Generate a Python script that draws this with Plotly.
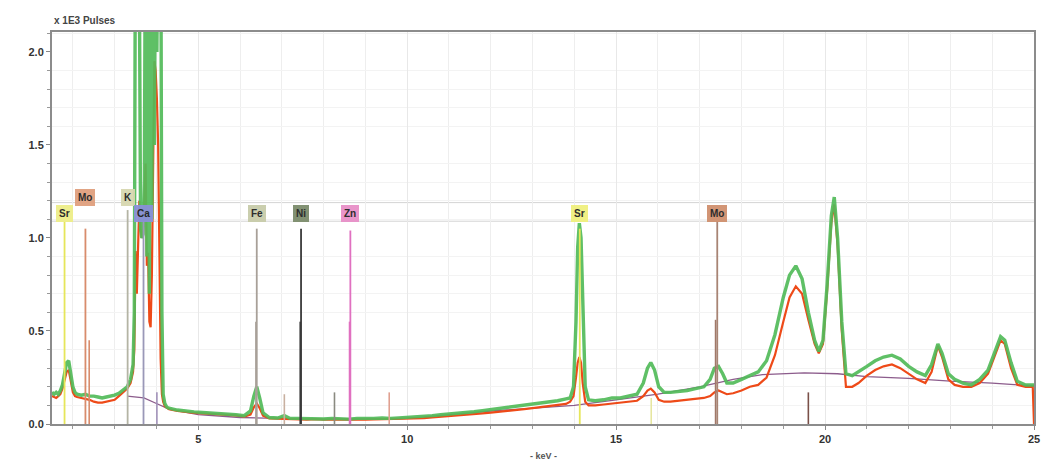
import plotly.graph_objects as go

# Energy axis (keV) shared by both measured spectra
kev = [
    1.50, 1.55, 1.60, 1.65, 1.70, 1.75, 1.80, 1.85, 1.90, 1.95, 2.00, 2.05, 2.10, 2.20, 2.30,
    2.40, 2.50, 2.60, 2.70, 2.80, 2.90, 3.00, 3.10, 3.20, 3.30, 3.38, 3.44,
    3.47, 3.50, 3.53, 3.56, 3.59, 3.62, 3.65, 3.68, 3.71, 3.74, 3.77, 3.80, 3.83, 3.86, 3.89,
    3.92, 3.95, 3.98, 4.01, 4.04, 4.07, 4.10, 4.13, 4.16, 4.20, 4.25,
    4.3, 4.5, 4.7, 4.9, 5.1, 5.3, 5.5, 5.7, 5.9, 6.1, 6.25, 6.33, 6.40, 6.47, 6.55, 6.7, 6.9,
    7.06, 7.2, 7.4, 7.6, 7.8, 8.0, 8.2, 8.4, 8.6, 8.8, 9.0, 9.2, 9.4, 9.6, 9.8, 10.0, 10.2,
    10.4, 10.6, 10.8, 11.0, 11.2, 11.4, 11.6, 11.8, 12.0, 12.2, 12.4, 12.6, 12.8, 13.0, 13.2,
    13.4, 13.6, 13.8,
    13.9, 13.98, 14.04, 14.08, 14.12, 14.16, 14.20, 14.26, 14.34, 14.5, 14.7, 14.9, 15.1, 15.3,
    15.5, 15.65, 15.75, 15.83, 15.92, 16.02, 16.15, 16.3, 16.5, 16.7, 16.9, 17.1, 17.25, 17.35,
    17.45, 17.55, 17.65, 17.8, 18.0, 18.2, 18.4,
    18.6, 18.8, 19.0, 19.15, 19.3, 19.45, 19.6, 19.75, 19.85, 19.95, 20.05, 20.15, 20.22, 20.3,
    20.4, 20.5, 20.65, 20.8, 21.0, 21.2, 21.4, 21.6, 21.8, 22.0, 22.2, 22.4, 22.55, 22.7, 22.8,
    22.95, 23.1, 23.3, 23.5, 23.7, 23.9, 24.05, 24.2, 24.3, 24.45, 24.6, 24.8, 24.97, 25.0,
]

# Counts in thousands of pulses
green_counts = [
    0.17, 0.16, 0.17, 0.16, 0.18, 0.21, 0.27, 0.33, 0.34, 0.27, 0.20, 0.17, 0.16, 0.155, 0.16,
    0.15, 0.15, 0.145, 0.14, 0.145, 0.15, 0.155, 0.165, 0.18, 0.20, 0.24, 0.32,
    0.6, 3.0, 3.0, 3.0, 2.4, 1.05, 1.0, 1.02, 1.3, 3.0, 0.9, 3.0, 0.7, 3.0, 1.1,
    3.0, 1.5, 3.0, 2.0, 3.0, 2.4, 3.0, 0.6, 0.16, 0.11, 0.09,
    0.085, 0.075, 0.068, 0.065, 0.062, 0.06, 0.058, 0.055, 0.05, 0.045, 0.07, 0.15, 0.20, 0.14,
    0.06, 0.035, 0.032, 0.045, 0.03, 0.03, 0.028, 0.03, 0.027, 0.03, 0.028, 0.026, 0.03, 0.028,
    0.03, 0.032, 0.03, 0.033, 0.035, 0.038, 0.04, 0.045, 0.05, 0.053, 0.058, 0.062, 0.066,
    0.072, 0.078, 0.082, 0.088, 0.094, 0.10, 0.104, 0.11, 0.118, 0.125, 0.135,
    0.14, 0.20, 0.55, 0.95, 1.08, 1.0, 0.6, 0.20, 0.13, 0.125, 0.13, 0.14, 0.14, 0.15,
    0.16, 0.22, 0.30, 0.33, 0.29, 0.20, 0.17, 0.17, 0.175, 0.18, 0.19, 0.20, 0.24, 0.30,
    0.31, 0.27, 0.22, 0.22, 0.24, 0.26, 0.28,
    0.34, 0.48, 0.68, 0.80, 0.85, 0.78, 0.60, 0.45, 0.39, 0.45, 0.75, 1.12, 1.22, 1.0,
    0.55, 0.27, 0.26, 0.28, 0.31, 0.34, 0.36, 0.37, 0.35, 0.31, 0.28, 0.26, 0.32, 0.43, 0.38,
    0.27, 0.24, 0.22, 0.21, 0.24, 0.29, 0.38, 0.47, 0.45, 0.33, 0.23, 0.21, 0.21, 0.21,
]

red_counts = [
    0.15, 0.145, 0.14, 0.15, 0.16, 0.19, 0.24, 0.28, 0.29, 0.23, 0.17, 0.15, 0.145, 0.14, 0.135,
    0.13, 0.12, 0.115, 0.115, 0.12, 0.125, 0.13, 0.15, 0.17, 0.19, 0.22, 0.28,
    0.4, 0.93, 0.7, 0.9, 1.2, 1.05, 1.0, 1.02, 1.2, 1.4, 0.85, 0.92, 0.55, 0.52, 0.8,
    1.3, 1.95, 1.9, 1.75, 1.5, 0.9, 0.35, 0.16, 0.12, 0.095, 0.085,
    0.08, 0.07, 0.063, 0.06, 0.057, 0.055, 0.052, 0.05, 0.046, 0.04, 0.05, 0.09, 0.11, 0.085,
    0.045, 0.03, 0.028, 0.03, 0.026, 0.025, 0.024, 0.026, 0.023, 0.025, 0.024, 0.022, 0.025,
    0.024, 0.025, 0.026, 0.025, 0.027, 0.028, 0.03, 0.032, 0.035, 0.038, 0.041, 0.045, 0.048,
    0.052, 0.057, 0.061, 0.065, 0.07, 0.075, 0.08, 0.085, 0.09, 0.095, 0.10, 0.108,
    0.12, 0.15, 0.25, 0.33, 0.36, 0.33, 0.22, 0.12, 0.10, 0.10, 0.105, 0.11, 0.115, 0.12,
    0.125, 0.15, 0.18, 0.19, 0.17, 0.13, 0.12, 0.12, 0.125, 0.13, 0.135, 0.14, 0.15, 0.17,
    0.18, 0.17, 0.16, 0.165, 0.18, 0.20, 0.21,
    0.25, 0.37, 0.55, 0.68, 0.74, 0.70, 0.56, 0.43, 0.38, 0.43, 0.72, 1.08, 1.18, 0.96,
    0.50, 0.20, 0.20, 0.22, 0.26, 0.29, 0.31, 0.32, 0.30, 0.27, 0.24, 0.22, 0.28, 0.42, 0.36,
    0.24, 0.21, 0.20, 0.20, 0.22, 0.27, 0.36, 0.45, 0.43, 0.30, 0.21, 0.20, 0.20, 0.0,
]

# Fitted continuum (bremsstrahlung background)
bg_kev = [3.3, 3.7, 4.0, 4.3, 5.0, 6.0, 8.0, 10.0, 12.0, 14.0, 15.0, 16.0, 17.0, 17.8, 18.5,
          19.5, 20.3, 21.0, 22.0, 23.0, 24.0, 25.0]
bg_counts = [0.15, 0.14, 0.11, 0.08, 0.05, 0.035, 0.025, 0.03, 0.07, 0.10, 0.13, 0.16, 0.20,
             0.24, 0.265, 0.275, 0.27, 0.255, 0.245, 0.23, 0.22, 0.205]

# Element line markers (main lines with labels)
elem_names = ["Sr", "Mo", "K", "Ca", "Fe", "Ni", "Zn", "Sr", "Mo"]
elem_kev = [1.80, 2.30, 3.31, 3.69, 6.40, 7.46, 8.64, 14.13, 17.42]
elem_height = [1.09, 1.05, 1.15, 1.09, 1.05, 1.05, 1.04, 1.05, 1.09]
elem_row = [1.13, 1.215, 1.215, 1.13, 1.13, 1.13, 1.13, 1.13, 1.13]
elem_line_color = ["#e6e65a", "#d88c6c", "#b4b4a4", "#9a98b8", "#a8a098", "#3a3a3a",
                   "#e070c0", "#e6e65a", "#a88474"]
elem_box_color = ["#eeee88", "#e0a07e", "#d8d8b0", "#8a90d8", "#c8ccaa", "#7c8c6c",
                  "#e890c8", "#f0f07e", "#d0906e"]

# Weaker companion lines (alpha2 / beta)
minor_kev = [2.39, 6.38, 7.06, 7.44, 8.26, 8.62, 9.57, 15.84, 17.38, 19.60, 4.01]
minor_height = [0.45, 0.55, 0.16, 0.55, 0.17, 0.55, 0.17, 0.14, 0.56, 0.17, 0.17]
minor_color = ["#d88c6c", "#a8a098", "#c8b0a0", "#3a3a3a", "#8a8a80", "#e070c0",
               "#e0a090", "#e6e6a0", "#a07868", "#7a5048", "#a090b8"]

fig = go.Figure()

fig.add_trace(go.Scatter(x=bg_kev, y=bg_counts, mode="lines",
                         line=dict(color="#8c5c8c", width=1.3), hoverinfo="skip"))
fig.add_trace(go.Scatter(x=kev, y=red_counts, mode="lines",
                         line=dict(color="#ee4a18", width=2.2), hoverinfo="skip"))
fig.add_trace(go.Scatter(x=kev, y=green_counts, mode="lines",
                         line=dict(color="#52bb5a", width=3.4), opacity=0.92,
                         hoverinfo="skip"))

# Marker lines drawn as vertical segments in data coordinates
for e, h, c in zip(minor_kev, minor_height, minor_color):
    fig.add_trace(go.Scatter(x=[e, e], y=[0, h], mode="lines",
                             line=dict(color=c, width=1.6), hoverinfo="skip"))
for e, h, c in zip(elem_kev, elem_height, elem_line_color):
    fig.add_trace(go.Scatter(x=[e, e], y=[0, h], mode="lines",
                             line=dict(color=c, width=1.8), hoverinfo="skip"))

for name, e, r, bc in zip(elem_names, elem_kev, elem_row, elem_box_color):
    fig.add_annotation(x=e, y=r, text="<b>" + name + "</b>", showarrow=False,
                       font=dict(family="Liberation Sans", size=10, color="#222"),
                       bgcolor=bc, bordercolor=bc, borderpad=2, opacity=0.95)

# Horizontal guide lines at the label rows
for yv in [1.09, 1.19]:
    fig.add_shape(type="line", xref="paper", x0=0, x1=1, y0=yv, y1=yv,
                  line=dict(color="#d4d4d4", width=1), layer="below")

fig.add_annotation(xref="paper", yref="paper", x=0, y=1.0, yshift=4,
                   xanchor="left", yanchor="bottom", text="<b>x 1E3 Pulses</b>",
                   showarrow=False, font=dict(family="Liberation Sans", size=10, color="#444"))
fig.add_annotation(xref="paper", yref="paper", x=0.5, y=0, yshift=-25,
                   xanchor="center", yanchor="top", text="<b>- keV -</b>",
                   showarrow=False, font=dict(family="Liberation Sans", size=9, color="#555"))

fig.update_layout(
    width=1046, height=461,
    margin=dict(l=52, r=6, t=32, b=37),
    paper_bgcolor="white", plot_bgcolor="white",
    showlegend=False,
    xaxis=dict(range=[1.5, 25.0], tick0=0, dtick=5, ticks="outside", ticklen=4,
               tickcolor="#888", showline=True, linecolor="#8c8c8c", linewidth=2,
               mirror=True, showgrid=True, gridcolor="#e8e8e8", zeroline=False,
               minor=dict(dtick=1, ticks="outside", ticklen=3, tickcolor="#999",
                          showgrid=True, gridcolor="#eeeeee"),
               tickfont=dict(family="Liberation Sans", size=11, color="#333"),
               tickprefix="<b>", ticksuffix="</b>"),
    yaxis=dict(range=[0, 2.107], tick0=0, dtick=0.5, tickformat=".1f", ticks="outside",
               ticklen=4, tickcolor="#888", showline=True, linecolor="#8c8c8c",
               linewidth=2, mirror=True, showgrid=False, zeroline=False,
               minor=dict(dtick=0.1, ticks="outside", ticklen=3, tickcolor="#999",
                          showgrid=True, gridcolor="#f3f3f3"),
               tickfont=dict(family="Liberation Sans", size=11, color="#333"),
               tickprefix="<b>", ticksuffix="</b>"),
)

fig.write_html("out.html")
